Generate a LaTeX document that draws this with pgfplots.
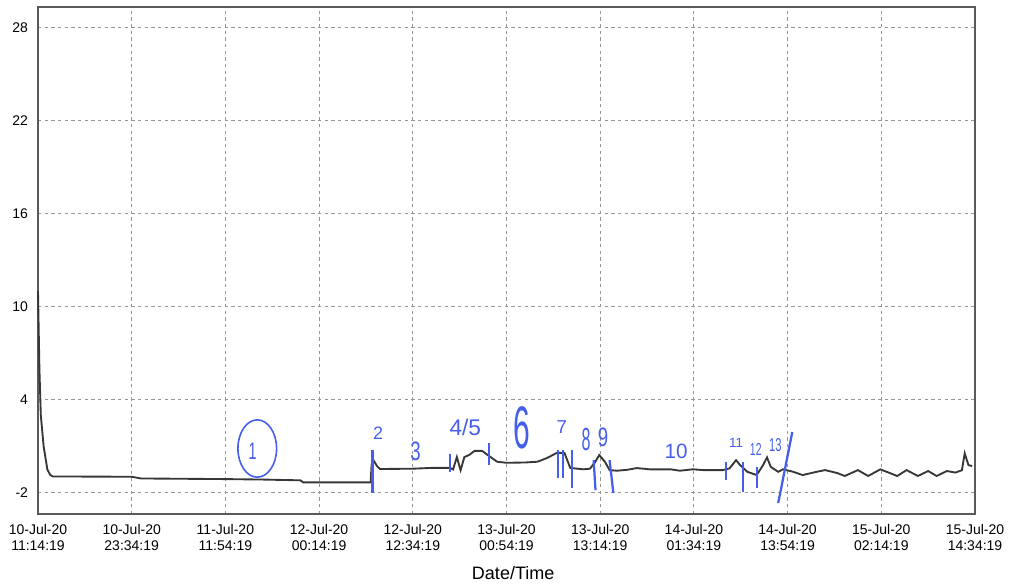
\documentclass[border=0pt]{standalone}
\usepackage{fontspec}
\setmainfont{Liberation Sans}
\usepackage{pgfplots}
\pgfplotsset{compat=1.18}
\usetikzlibrary{shapes.geometric}
\definecolor{hb}{RGB}{70,95,235}
\definecolor{curve}{RGB}{55,55,55}
\definecolor{frame}{RGB}{90,90,90}
\definecolor{gridc}{RGB}{150,150,150}
\begin{document}
\begin{tikzpicture}
\path[use as bounding box] (-28.5pt,-55.5pt) rectangle (731.25pt,385.5pt);
\begin{axis}[
  at={(0,0)}, anchor=south west,
  scale only axis, width=702.75pt, height=380.25pt,
  xmin=0, xmax=10, ymin=-3.37, ymax=29.31,
  xtick={0,1,2,3,4,5,6,7,8,9,10},
  xticklabels={{10-Jul-20\\11:14:19},{10-Jul-20\\23:34:19},{11-Jul-20\\11:54:19},{12-Jul-20\\00:14:19},{12-Jul-20\\12:34:19},{13-Jul-20\\00:54:19},{13-Jul-20\\13:14:19},{14-Jul-20\\01:34:19},{14-Jul-20\\13:54:19},{15-Jul-20\\02:14:19},{15-Jul-20\\14:34:19}},
  xticklabel style={align=center, font=\fontsize{10.5}{12}\selectfont, yshift=-4pt},
  ytick={-2,4,10,16,22,28},
  yticklabel style={font=\fontsize{10.5}{12}\selectfont, xshift=-4pt},
  /pgf/number format/assume math mode=true,
  major tick length=0pt,
  grid=major,
  major grid style={gridc, line width=0.7pt, dash pattern=on 2.5pt off 2.5pt},
  axis line style={frame, line width=1.9pt},
  xlabel={Date/Time},
  xlabel style={font=\fontsize{13.5}{16}\selectfont, at={(axis description cs:0.5,0)}, anchor=center, yshift=-44.25pt, xshift=5pt},
  clip=false,
]
\addplot[curve, line width=1.4pt] coordinates {
(0,11) (0.015,6) (0.03,3) (0.06,1.0) (0.1,-0.5) (0.13,-0.85) (0.16,-0.95)
(1.0,-0.97) (1.1,-1.08) (2.0,-1.12) (2.4,-1.15) (2.8,-1.2) (2.83,-1.33) (3.55,-1.33)
(3.56,-0.2) (3.58,0.1) (3.62,-0.3) (3.65,-0.47) (4.0,-0.45) (4.2,-0.4) (4.4,-0.4)
(4.43,-0.5) (4.47,0.3) (4.51,-0.55) (4.55,0.3) (4.6,0.43) (4.66,0.7) (4.74,0.7)
(4.8,0.43) (4.9,0.0) (5.0,-0.07) (5.2,-0.05) (5.33,0.0) (5.43,0.23) (5.54,0.58)
(5.62,0.55) (5.68,-0.4) (5.82,-0.49) (5.89,-0.45) (5.94,-0.08) (5.99,0.43) (6.05,0.0)
(6.10,-0.54) (6.18,-0.58) (6.29,-0.52) (6.39,-0.41) (6.46,-0.45) (6.53,-0.49)
(6.75,-0.49) (6.85,-0.58) (6.99,-0.49) (7.1,-0.54) (7.31,-0.54) (7.38,-0.43)
(7.45,0.1) (7.49,-0.2) (7.57,-0.65) (7.67,-0.86) (7.74,-0.2) (7.78,0.28) (7.82,-0.33)
(7.90,-0.65) (7.95,-0.49) (8.06,-0.65) (8.16,-0.86) (8.31,-0.65) (8.40,-0.54)
(8.53,-0.73) (8.61,-0.92) (8.75,-0.54) (8.86,-0.92) (8.99,-0.49) (9.09,-0.73)
(9.17,-0.92) (9.27,-0.54) (9.39,-0.92) (9.50,-0.6) (9.59,-0.92) (9.70,-0.6)
(9.79,-0.7) (9.86,-0.55) (9.89,0.54) (9.93,-0.22) (9.97,-0.28)
};
% handwritten annotation strokes
\addplot[hb, line width=1.7pt] coordinates {(3.57,0.75) (3.57,-2.02)};
\addplot[hb, line width=1.7pt] coordinates {(4.40,0.5) (4.40,-0.65)};
\addplot[hb, line width=1.7pt] coordinates {(4.81,1.2) (4.81,-0.2)};
\addplot[hb, line width=1.7pt] coordinates {(5.55,0.75) (5.55,-1.05)};
\addplot[hb, line width=1.7pt] coordinates {(5.60,0.75) (5.60,-1.05)};
\addplot[hb, line width=1.7pt] coordinates {(5.70,0.75) (5.70,-1.7)};
\addplot[hb, line width=1.7pt] coordinates {(5.93,0.1) (5.95,-1.83)};
\addplot[hb, line width=1.7pt] coordinates {(6.10,0.1) (6.14,-2.0)};
\addplot[hb, line width=1.7pt] coordinates {(7.34,-0.02) (7.34,-1.18)};
\addplot[hb, line width=1.7pt] coordinates {(7.52,-0.02) (7.52,-1.95)};
\addplot[hb, line width=1.7pt] coordinates {(7.67,-0.34) (7.67,-1.7)};
\addplot[hb, line width=1.7pt] coordinates {(8.05,1.91) (7.90,-2.66)};
% handwritten labels
\node[draw=hb, line width=1.2pt, ellipse, minimum width=29pt, minimum height=43pt, inner sep=0pt] at (axis cs:2.34,0.85) {};
\node[hb, font=\fontsize{18}{18}\selectfont, xscale=0.6] at (axis cs:2.29,0.66) {1};
\node[hb, font=\fontsize{13.5}{14}\selectfont] at (axis cs:3.63,1.85) {2};
\node[hb, font=\fontsize{20}{20}\selectfont, xscale=0.7] at (axis cs:4.03,0.66) {3};
\node[hb, font=\fontsize{17}{17}\selectfont] at (axis cs:4.56,2.23) {4/5};
\node[hb, font=\fontsize{45}{45}\selectfont, xscale=0.5] at (axis cs:5.16,2.17) {6};
\node[hb, font=\fontsize{14}{14}\selectfont] at (axis cs:5.59,2.23) {7};
\node[hb, font=\fontsize{24}{24}\selectfont, xscale=0.5] at (axis cs:5.85,1.46) {8};
\node[hb, font=\fontsize{20}{20}\selectfont, xscale=0.7] at (axis cs:6.03,1.59) {9};
\node[hb, font=\fontsize{15.5}{16}\selectfont] at (axis cs:6.81,0.69) {10};
\node[hb, font=\fontsize{10}{10}\selectfont, inner sep=1pt] at (axis cs:7.45,1.2) {11};
\node[hb, font=\fontsize{13}{13}\selectfont, xscale=0.6, inner sep=1pt] at (axis cs:7.66,0.82) {12};
\node[hb, font=\fontsize{14}{14}\selectfont, xscale=0.6, inner sep=1pt] at (axis cs:7.87,1.05) {13};
\end{axis}
\end{tikzpicture}
\end{document}
